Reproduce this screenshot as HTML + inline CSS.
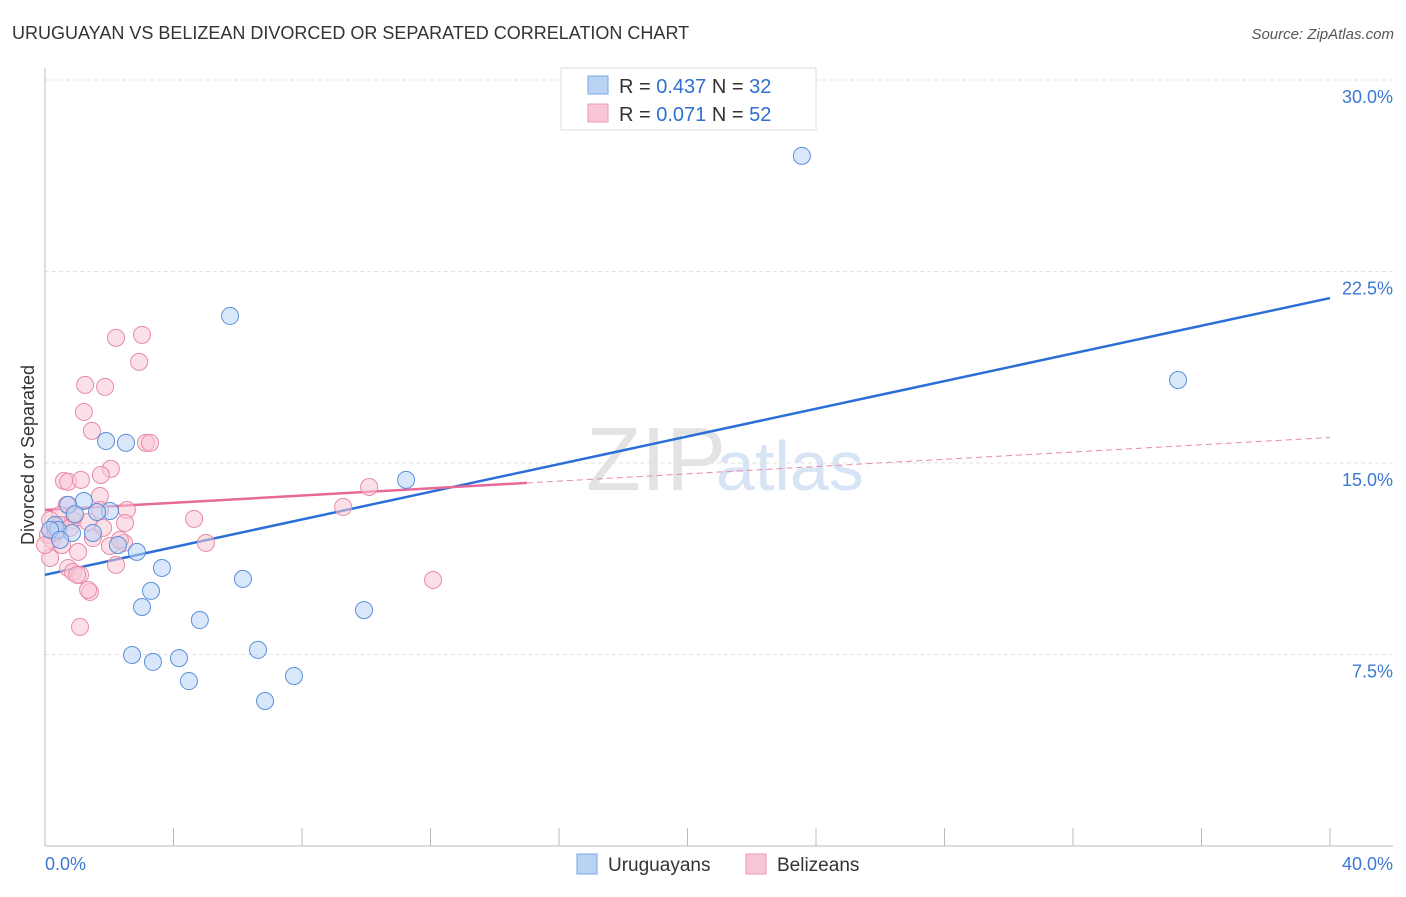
<!DOCTYPE html>
<html><head><meta charset="utf-8"><style>
body{margin:0;background:#fff;font-family:"Liberation Sans",sans-serif;}
svg text{font-family:"Liberation Sans",sans-serif;}
</style></head><body>
<svg width="1406" height="892" id="c">
<text x="12" y="39" font-size="18" fill="#333">URUGUAYAN VS BELIZEAN DIVORCED OR SEPARATED CORRELATION CHART</text>
<text x="1394" y="39" font-size="15" fill="#555" font-style="italic" text-anchor="end">Source: ZipAtlas.com</text>
<text x="726" y="490" font-size="90" fill="#e3e3e3" text-anchor="end" font-family="Liberation Serif">ZIP</text>
<text x="716" y="490" font-size="70" fill="#d6e4f5">atlas</text>
<text transform="translate(34,455) rotate(-90)" font-size="18" fill="#333" text-anchor="middle">Divorced or Separated</text>
<g id="grid"></g><g id="axes"></g><g id="lines"></g><g id="pts"></g>
<g>
<rect x="561" y="68" width="255" height="62" fill="#fff" stroke="#ddd"/>
<rect x="588" y="76" width="20" height="18" fill="#b9d3f5" stroke="#7aa6e0"/>
<rect x="588" y="104" width="20" height="18" fill="#f9c6d6" stroke="#ec9ab4"/>
<text x="619" y="93" font-size="20" fill="#333">R = <tspan fill="#2f6fd0">0.437</tspan>  N = <tspan fill="#2f6fd0">32</tspan></text>
<text x="619" y="121" font-size="20" fill="#333">R = <tspan fill="#2f6fd0">0.071</tspan>  N = <tspan fill="#2f6fd0">52</tspan></text>
</g>
<g>
<rect x="577" y="854" width="20" height="20" fill="#b9d3f5" stroke="#7aa6e0"/>
<text x="608" y="871" font-size="19" fill="#333">Uruguayans</text>
<rect x="746" y="854" width="20" height="20" fill="#f9c6d6" stroke="#ec9ab4"/>
<text x="777" y="871" font-size="19" fill="#333">Belizeans</text>
</g>
</svg>
<script>
const blueX=[23.56,5.76,35.27,1.90,2.52,11.24,1.21,0.72,2.02,1.62,0.93,0.31,0.40,0.84,1.49,2.27,2.86,3.64,6.16,3.30,3.02,9.93,4.82,2.71,3.36,4.17,6.63,4.48,7.75,6.85,0.16,0.47];
const blueY=[27.03,20.76,18.25,15.86,15.79,14.34,13.51,13.36,13.12,13.08,13.00,12.57,12.38,12.26,12.26,11.79,11.52,10.89,10.46,9.99,9.36,9.24,8.85,7.48,7.21,7.36,7.68,6.46,6.66,5.68,12.38,11.99];
const pinkX=[2.21,3.02,2.93,1.25,1.87,1.21,1.46,3.14,3.27,2.05,1.74,0.59,0.72,1.12,1.71,0.68,2.55,1.71,0.47,0.87,1.34,1.81,0.16,0.31,0.09,0.22,0.47,0.78,4.64,9.28,10.09,12.08,2.46,5.01,2.02,1.03,2.21,0.72,0.87,1.09,1.40,1.34,1.09,1.49,2.33,0.16,0.53,0.0,0.34,0.93,2.49,1.00];
const pinkY=[19.90,20.02,18.96,18.06,17.98,17.00,16.26,15.79,15.79,14.77,14.53,14.30,14.26,14.34,13.71,13.36,13.16,13.16,12.97,12.77,12.69,12.46,12.77,12.38,12.18,11.99,12.57,12.46,12.81,13.28,14.06,10.42,11.87,11.87,11.75,11.52,11.01,10.89,10.73,10.62,9.95,10.03,8.58,12.06,11.99,11.28,11.79,11.79,12.30,12.97,12.65,10.62];
const blueTrend=[[0,10.62],[40,21.46]];
const pinkTrend=[[0,13.16],[15,14.22]];
const pinkTrendExt=[[15,14.22],[40,16.0]];
const yTicks=[7.5,15,22.5,30];
const yTickLabels=["7.5%","15.0%","22.5%","30.0%"];
const xTicks=[0,4,8,12,16,20,24,28,32,36,40];
const NS="http://www.w3.org/2000/svg";
const sx=v=>45+v*32.125, sy=v=>846-v*25.533;
function mk(t,a,p){const e=document.createElementNS(NS,t);for(const k in a)e.setAttribute(k,a[k]);document.getElementById(p).appendChild(e);return e;}
yTicks.forEach((v,i)=>{
 const g=mk('line',{x1:45,x2:1393,y1:sy(v),y2:sy(v),stroke:'#e2e2e2','stroke-dasharray':'4 3'},'grid');
 
 
 const t=mk('text',{x:1393,y:sy(v)+23,'font-size':18,fill:'#3b78d4','text-anchor':'end'},'grid');t.textContent=yTickLabels[i];
 
 
});
const ax=mk('line',{x1:45,x2:45,y1:68,y2:846,stroke:'#bbb'},'axes');


const bx=mk('line',{x1:45,x2:1393,y1:846,y2:846,stroke:'#bbb'},'axes');


xTicks.forEach(v=>{const t=mk('line',{x1:sx(v),x2:sx(v),y1:828,y2:846,stroke:'#bbb'},'axes');
 
 });
const l0=mk('text',{x:45,y:870,'font-size':18,fill:'#3b78d4'},'axes');l0.textContent='0.0%';


const l1=mk('text',{x:1393,y:870,'font-size':18,fill:'#3b78d4','text-anchor':'end'},'axes');l1.textContent='40.0%';


function pts(X,Y,fill,stroke,name){X.forEach((x,i)=>{const c=mk('circle',{cx:sx(x),cy:sy(Y[i]),r:8.5,fill:fill,'fill-opacity':0.55,stroke:stroke,'stroke-width':1},'pts');
 
 });}
pts(pinkX,pinkY,'#f9c6d6','#e88aa8','belizean-point');
pts(blueX,blueY,'#b9d3f5','#5b8fd8','uruguayan-point');
function ln(d,col,w,dash,name){const l=mk('line',{x1:sx(d[0][0]),y1:sy(d[0][1]),x2:sx(d[1][0]),y2:sy(d[1][1]),stroke:col,'stroke-width':w},'lines');if(dash)l.setAttribute('stroke-dasharray',dash);
 
 }
ln(pinkTrendExt,'#e88aa8',1,'6 4','belizean-trend-extension');
ln(blueTrend,'#2b6fd6',2.5,null,'uruguayan-trend-line');
ln(pinkTrend,'#e8689a',2.5,null,'belizean-trend-line');
</script>
</body></html>
